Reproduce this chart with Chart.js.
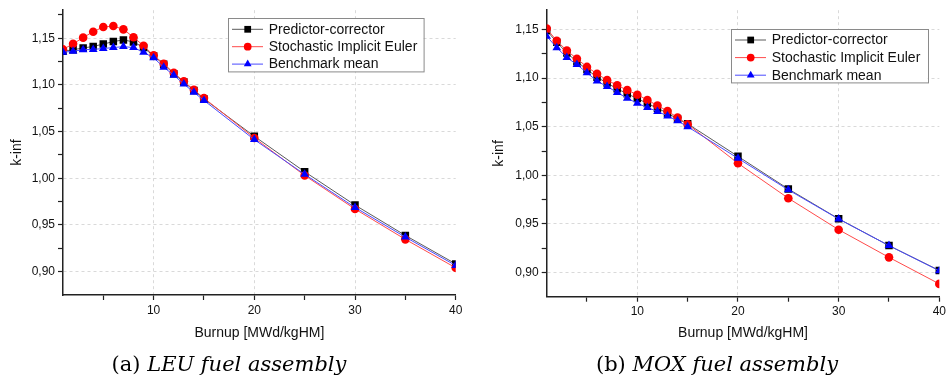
<!DOCTYPE html>
<html><head><meta charset="utf-8">
<script src="https://cdn.jsdelivr.net/npm/chart.js@4/dist/chart.umd.min.js"></script>
<style>
html,body{margin:0;padding:0;background:#fff;width:949px;height:384px;overflow:hidden}
canvas{position:absolute;top:0}
.cap{position:absolute;top:352px;font-family:"DejaVu Serif",serif;font-size:21px;color:#000;white-space:nowrap;transform:translateX(-50%)}
.cap i{font-style:italic}
</style></head><body>
<canvas id="c1" width="480" height="384" style="left:0"></canvas>
<canvas id="c2" width="469" height="384" style="left:480px"></canvas>
<div class="cap" style="left:229px">(a) <i>LEU fuel assembly</i></div>
<div class="cap" style="left:717px">(b) <i>MOX fuel assembly</i></div>
<script>
const burnup = [1,2,3,4,5,6,7,8,9,10,11,12,13,14,15,20,25,30,35,40];
const seriesNames = ['Predictor-corrector','Stochastic Implicit Euler','Benchmark mean'];
const leuPC  = [1.136,1.1377,1.1395,1.1412,1.1437,1.1464,1.1482,1.146,1.140,1.131,1.122,1.112,1.103,1.094,1.085,1.045,1.007,0.9713,0.9388,0.9083];
const leuSIE = [1.138,1.144,1.1506,1.157,1.162,1.163,1.1595,1.151,1.142,1.1317,1.1227,1.113,1.1038,1.0947,1.0859,1.0432,1.003,0.9671,0.9346,0.9041];
const leuBM  = [1.135,1.136,1.1377,1.138,1.139,1.140,1.141,1.140,1.135,1.129,1.119,1.1104,1.101,1.092,1.0834,1.0414,1.0042,0.9688,0.937,0.9066];
const moxPC  = [1.149,1.137,1.126,1.117,1.109,1.101,1.095,1.089,1.084,1.079,1.074,1.069,1.064,1.058,1.053,1.0195,0.9859,0.9552,0.9276,0.9020];
const moxSIE = [1.151,1.1385,1.1284,1.12,1.1116,1.1045,1.098,1.0927,1.0877,1.083,1.0776,1.0718,1.0662,1.0594,1.0526,1.0124,0.9764,0.944,0.9155,0.8882];
const moxBM  = [1.1432,1.1314,1.1213,1.114,1.1056,1.097,1.0914,1.0853,1.0793,1.0742,1.0698,1.0658,1.0611,1.0561,1.05,1.0175,0.985,0.955,0.9276,0.9017];
const xMajorTicks = [10,20,30,40];
const xMinorTicks = [5,15,25,35];
const yMajorTicks = [0.90,0.95,1.00,1.05,1.10,1.15];
const yMinorTicks = [0.925,0.975,1.025,1.075,1.125,1.175];

const styles = [
  {line:'#5a5a5a', fill:'#000000', point:'rect', radius:5.3, order:2},
  {line:'#ff4a4a', fill:'#ff0000', point:'circle', radius:4.3, order:1},
  {line:'#4a4aff', fill:'#0000ff', point:'triangle', radius:5, order:0}
];
const FONT = 'Liberation Sans';
const isIn = (arr, v) => arr.some(a => Math.abs(a - v) < 1e-6);

const boxLegend = {
  id: 'boxLegend',
  afterDatasetsDraw(chart, args, o) {
    const ctx = chart.ctx;
    ctx.save();
    ctx.fillStyle = '#fff';
    ctx.fillRect(o.x, o.y, o.w, o.h);
    ctx.strokeStyle = '#8a8a8a';
    ctx.lineWidth = 1;
    ctx.strokeRect(Math.round(o.x) + 0.5, Math.round(o.y) + 0.5, o.w, o.h);
    ctx.font = '14px "' + FONT + '"';
    ctx.textBaseline = 'middle';
    ctx.textAlign = 'left';
    seriesNames.forEach((name, i) => {
      const st = styles[i];
      const cy = o.y + o.first + i * o.row;
      ctx.strokeStyle = st.line;
      ctx.lineWidth = 1;
      ctx.beginPath();
      ctx.moveTo(o.x + 4.3, cy);
      ctx.lineTo(o.x + 35.3, cy);
      ctx.stroke();
      ctx.fillStyle = st.fill;
      Chart.helpers.drawPoint(ctx, {pointStyle: st.point, radius: st.radius * 0.9, rotation: 0, borderWidth: 0}, o.x + 20, cy);
      ctx.fillStyle = '#111';
      ctx.fillText(name, o.x + 41, cy + 0.5);
    });
    ctx.restore();
  }
};

function makeChart(id, series, cfg) {
  const datasets = series.map((vals, i) => ({
    label: seriesNames[i],
    data: burnup.map((b, j) => ({x: b, y: vals[j]})),
    borderColor: styles[i].line,
    borderWidth: 1,
    backgroundColor: styles[i].fill,
    pointBackgroundColor: styles[i].fill,
    pointBorderWidth: 0,
    pointStyle: styles[i].point,
    pointRadius: styles[i].radius,
    order: styles[i].order,
    tension: 0
  }));
  return new Chart(document.getElementById(id), {
    type: 'line',
    data: {datasets},
    plugins: [boxLegend],
    options: {
      responsive: false,
      animation: false,
      layout: {padding: {left: 0, right: cfg.padRight, top: 5, bottom: 0}},
      plugins: {
        legend: {display: false},
        tooltip: {enabled: false},
        boxLegend: cfg.legend
      },
      scales: {
        x: {
          type: 'linear', min: 1, max: 40,
          afterBuildTicks: s => { s.ticks = xMinorTicks.concat(xMajorTicks).sort((a,b)=>a-b).map(v => ({value: v})); },
          afterFit: s => { s.height = cfg.xHeight; },
          ticks: {autoSkip: false, maxRotation: 0, padding: 3, color: '#111',
            font: {family: FONT, size: 12},
            callback: v => isIn(xMajorTicks, v) ? String(v) : ''},
          grid: {
            color: c => (c.tick && isIn(xMajorTicks, c.tick.value) && c.tick.value < 40) ? '#d9d9d9' : 'rgba(0,0,0,0)',
            tickColor: '#222', tickLength: 5, tickWidth: 1.2, lineWidth: 1
          },
          border: {color: '#222', width: 1.5, dash: [3, 3]},
          title: {display: true, text: 'Burnup [MWd/kgHM]', color: '#111',
            font: {family: FONT, size: 14}, padding: {top: 0, bottom: cfg.xTitlePad}}
        },
        y: {
          type: 'linear', min: 0.875, max: cfg.yMax,
          afterBuildTicks: s => { s.ticks = yMinorTicks.concat(yMajorTicks).filter(v => v <= cfg.yMax).sort((a,b)=>a-b).map(v => ({value: v})); },
          afterFit: s => { s.width = cfg.yWidth; },
          ticks: {autoSkip: false, padding: 3, color: '#111',
            font: {family: FONT, size: 12},
            callback: v => isIn(yMajorTicks, v) ? v.toFixed(2).replace('.', ',') : ''},
          grid: {
            color: c => (c.tick && isIn(yMajorTicks, c.tick.value)) ? '#d9d9d9' : 'rgba(0,0,0,0)',
            tickColor: '#222', tickLength: 5, tickWidth: 1.2, lineWidth: 1
          },
          border: {color: '#222', width: 1.5, dash: [3, 3]},
          title: {display: true, text: 'k-inf', color: '#111',
            font: {family: FONT, size: 14}, padding: {top: cfg.yTitlePad, bottom: 0}}
        }
      }
    }
  });
}

makeChart('c1', [leuPC, leuSIE, leuBM], {
  padRight: 24.3, xHeight: 89, yWidth: 63, yMax: 1.18, xTitlePad: 42.6, yTitlePad: 8.6,
  legend: {x: 227.7, y: 18.3, w: 195.6, h: 53.4, first: 11, row: 17.4}
});
makeChart('c2', [moxPC, moxSIE, moxBM], {
  padRight: 7.3, xHeight: 87.3, yWidth: 66.7, yMax: 1.17, xTitlePad: 42.6, yTitlePad: 10.6,
  legend: {x: 250.7, y: 29.3, w: 197, h: 53.4, first: 10.7, row: 17.6}
});
</script>
</body></html>
